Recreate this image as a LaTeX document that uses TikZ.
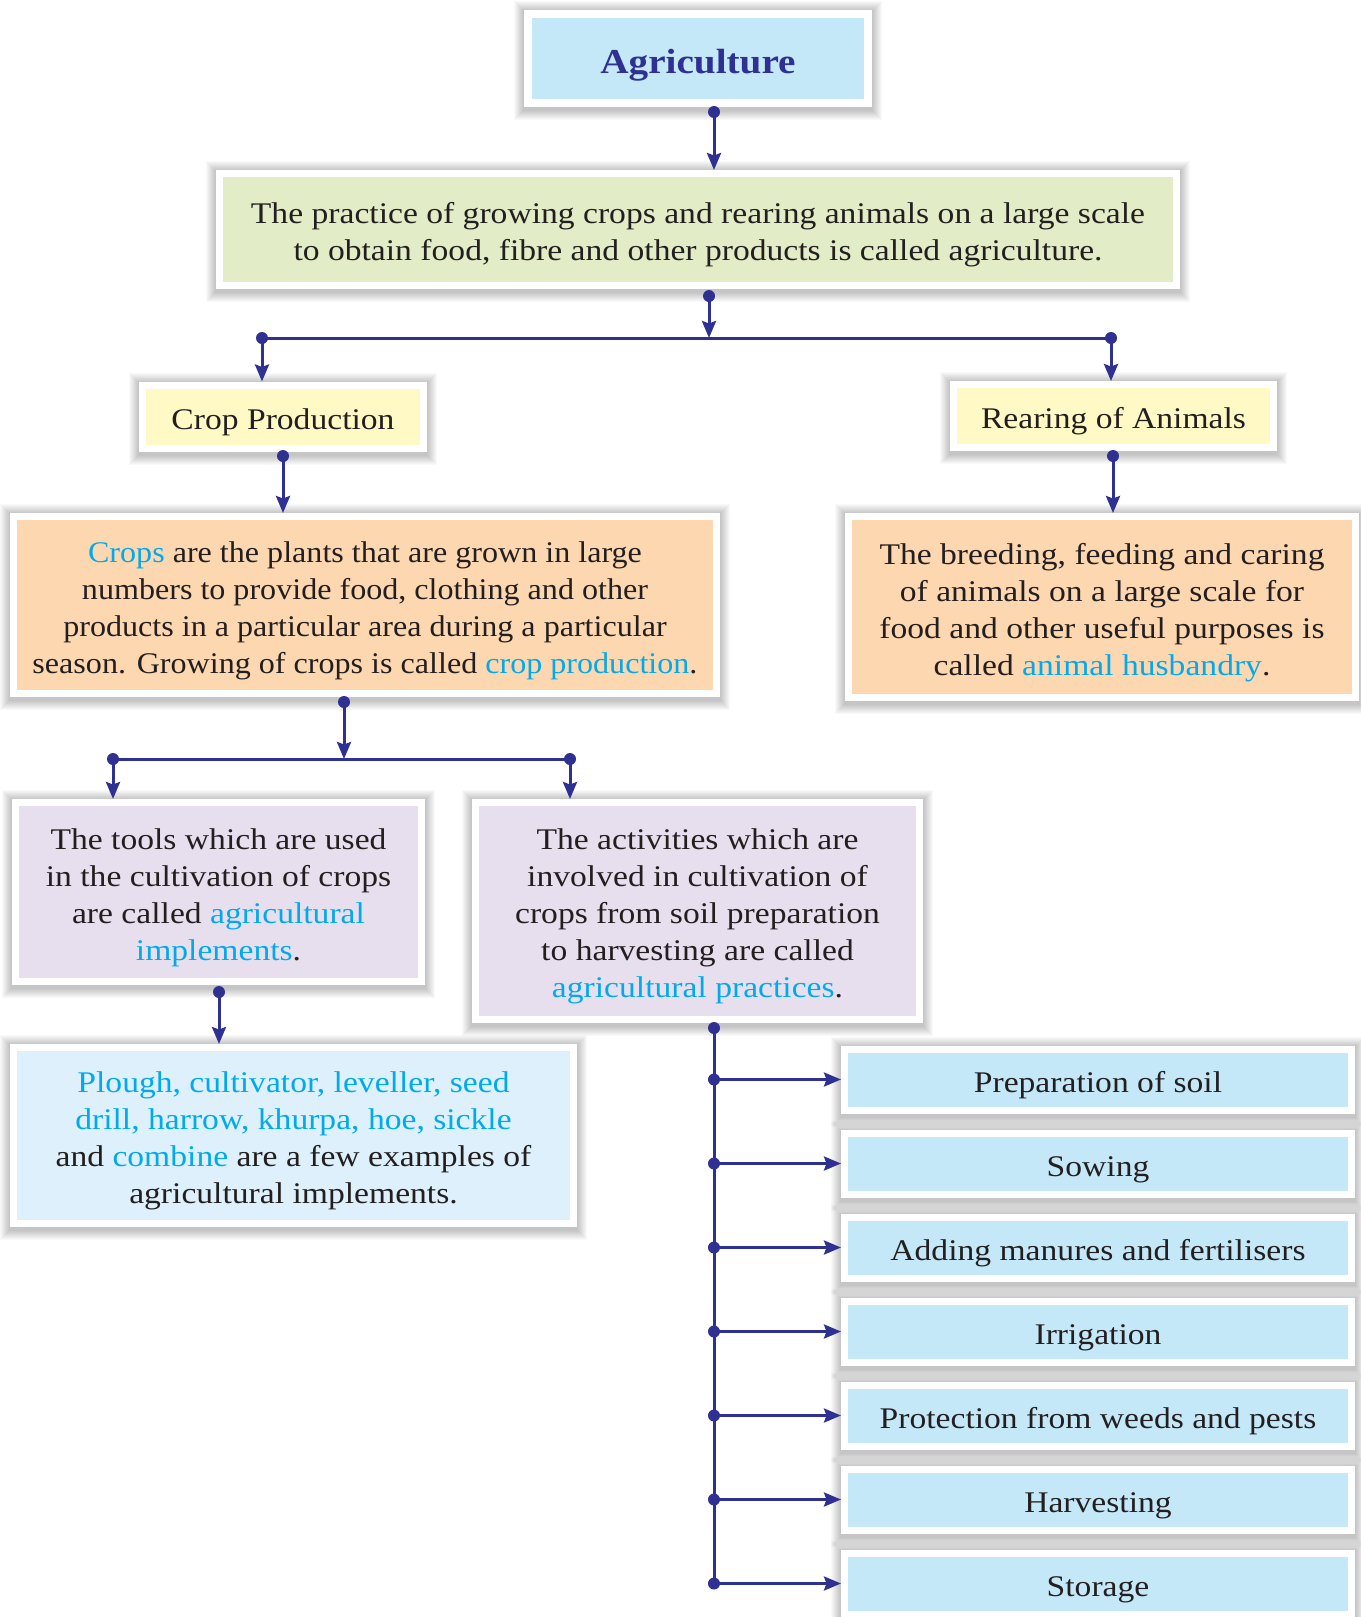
\documentclass[tikz,border=0pt]{standalone}
\usepackage{fontspec}
\setmainfont[FakeStretch=1.12]{Liberation Serif}
\newfontfamily\narrowrm[FakeStretch=1.07]{Liberation Serif}
\usetikzlibrary{arrows.meta,backgrounds}

\definecolor{navy}{RGB}{46,49,146}
\definecolor{kwcyan}{RGB}{0,170,235}
\definecolor{ink}{RGB}{35,31,32}
\definecolor{skyfill}{RGB}{197,232,248}
\definecolor{greenfill}{RGB}{226,236,198}
\definecolor{yellowfill}{RGB}{255,249,197}
\definecolor{peachfill}{RGB}{253,215,176}
\definecolor{lavfill}{RGB}{232,223,238}
\definecolor{paleblue}{RGB}{221,240,251}

\newcommand{\kw}[1]{\textcolor{kwcyan}{#1}}
% taller first line, so the text block sits a little low in its box
\newcommand{\lift}{\rule{0pt}{1.05em}}

\begin{document}
\begin{tikzpicture}[x=1pt,y=-1pt,
  box/.style={draw=white, line width=7pt, inner sep=0pt, align=center,
    text=ink, font=\fontsize{30}{37}\selectfont},
  link/.style={navy, line width=3pt},
  conn/.style={link, -{Stealth[length=17pt,width=14pt,inset=2.5pt]}},
  dot/.style={circle, fill=navy, inner sep=0pt, minimum size=12pt}
]
\clip (0,0) rectangle (1360,1617);

% boxes
\node[box, fill=skyfill, minimum width=340pt, minimum height=89pt,
      line width=8pt, text=navy, font=\fontsize{35}{40}\selectfont\bfseries]
  (agri) at (698,58.5) {\lift Agriculture};

\node[box, fill=greenfill, minimum width=957pt, minimum height=112pt]
  (def) at (698,229.5)
  {\lift The practice of growing crops and rearing animals on a large scale\\
   to obtain food, fibre and other products is called agriculture.};

\node[box, fill=yellowfill, minimum width=281pt, minimum height=63pt]
  (crop) at (283,416.5) {\lift Crop Production};
\node[box, fill=yellowfill, minimum width=320pt, minimum height=63pt]
  (rear) at (1113.5,416) {\lift Rearing of Animals};

\node[box, fill=peachfill, minimum width=703pt, minimum height=177pt,
      font=\fontsize{30}{37}\narrowrm]
  (cropdef) at (365,605)
  {\lift\kw{Crops} are the plants that are grown in large\\
   numbers to provide food, clothing and other\\
   products in a particular area during a particular\\
   season. Growing of crops is called \kw{crop production}.};

\node[box, fill=peachfill, minimum width=507pt, minimum height=181pt]
  (animdef) at (1102,607)
  {\lift The breeding, feeding and caring\\
   of animals on a large scale for\\
   food and other useful purposes is\\
   called \kw{animal husbandry}.};

\node[box, fill=lavfill, minimum width=406pt, minimum height=179pt]
  (tools) at (218.5,892)
  {\lift The tools which are used\\
   in the cultivation of crops\\
   are called \kw{agricultural}\\
   \kw{implements}.};

\node[box, fill=lavfill, minimum width=444pt, minimum height=217pt]
  (acts) at (697.5,911)
  {\lift The activities which are\\
   involved in cultivation of\\
   crops from soil preparation\\
   to harvesting are called\\
   \kw{agricultural practices}.};

\node[box, fill=paleblue, minimum width=560pt, minimum height=176pt]
  (examples) at (293.5,1135.5)
  {\lift\kw{Plough, cultivator, leveller, seed}\\
   \kw{drill, harrow, khurpa, hoe, sickle}\\
   and \kw{combine} are a few examples of\\
   agricultural implements.};

% the seven practices
\foreach \i/\t in {1/Preparation of soil, 2/Sowing,
                   3/Adding manures and fertilisers, 4/Irrigation,
                   5/Protection from weeds and pests, 6/Harvesting, 7/Storage}{
  \node[box, fill=skyfill, minimum width=507pt, minimum height=61pt]
    (s\i) at (1098,{1079.5+84*(\i-1)}) {\lift\t};
}

% white page and soft shadows behind the boxes
\begin{scope}[on background layer]
\fill[white] (0,0) rectangle (1360,1617);
\foreach \n in {agri,def,crop,rear,cropdef,animdef,tools,acts,examples,s1,s2,s3,s4,s5,s6,s7}{
  \foreach \k in {1,...,10}{
    \fill[black, opacity=0.024]
      ([shift={(-\k pt, \k pt - 1pt)}]\n.north west) rectangle
      ([shift={(\k pt, -\k pt - 3pt)}]\n.south east);
  }
}
\end{scope}

% connectors
\node[dot] (d0) at (714,112) {};
\draw[conn] (d0.center) -- (d0.center |- def.north);

\node[dot] (d1) at (709,296) {};
\coordinate (j1) at (709,338);
\draw[conn] (d1.center) -- (j1);
\node[dot] (bl) at (262,338) {};
\node[dot] (br) at (1111,338) {};
\draw[link] (bl.center) -- (br.center);
\draw[conn] (bl.center) -- (bl.center |- crop.north);
\draw[conn] (br.center) -- (br.center |- rear.north);

\node[dot] (d2) at (283,456) {};
\draw[conn] (d2.center) -- (d2.center |- cropdef.north);
\node[dot] (d3) at (1113,456) {};
\draw[conn] (d3.center) -- (d3.center |- animdef.north);

\node[dot] (d4) at (344,702) {};
\coordinate (j2) at (344,759);
\draw[conn] (d4.center) -- (j2);
\node[dot] (bl2) at (113,759) {};
\node[dot] (br2) at (570,759) {};
\draw[link] (bl2.center) -- (br2.center);
\draw[conn] (bl2.center) -- (bl2.center |- tools.north);
\draw[conn] (br2.center) -- (br2.center |- acts.north);

\node[dot] (d5) at (219,992) {};
\draw[conn] (d5.center) -- (d5.center |- examples.north);

\node[dot] (d6) at (714,1028) {};
\draw[link] (d6.center) -- (d6.center |- s7.west);
\foreach \i in {1,...,7}{
  \node[dot] (b\i) at (d6.center |- s\i.west) {};
  \draw[conn] (b\i.center) -- (s\i.west);
}
\end{tikzpicture}
\end{document}
